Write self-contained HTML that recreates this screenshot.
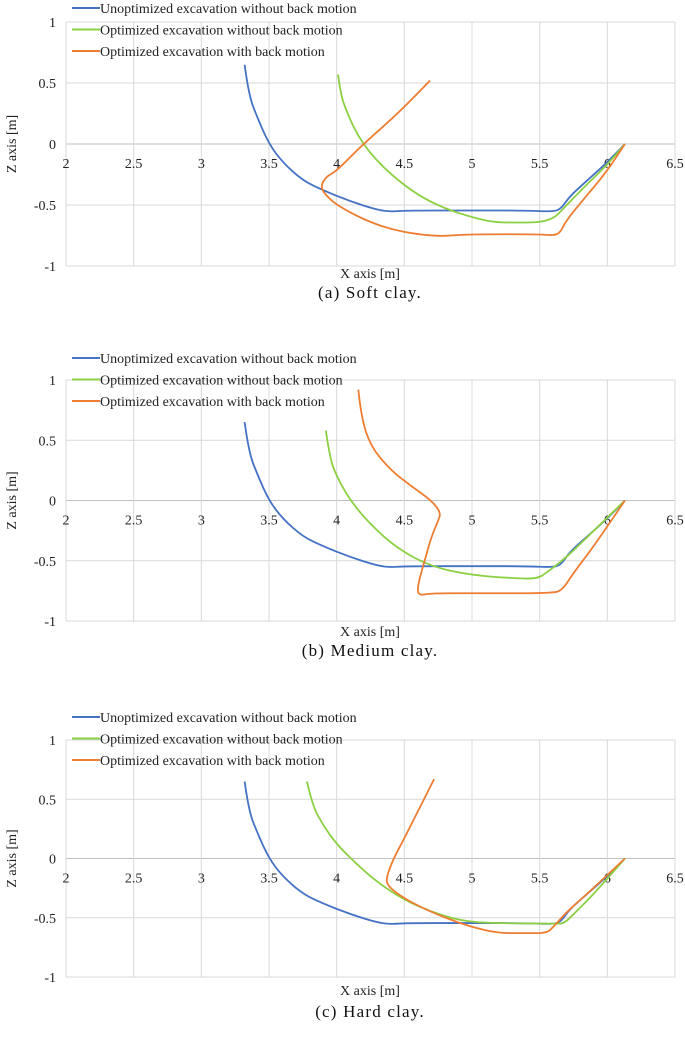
<!DOCTYPE html>
<html><head><meta charset="utf-8"><style>
html,body{margin:0;padding:0;background:#fff}
svg text{font-family:"Liberation Serif",serif}
</style></head><body>
<svg id="fig" width="685" height="1033" viewBox="0 0 685 1033" xmlns="http://www.w3.org/2000/svg"></svg>
<script>
const xTicks=[2,2.5,3,3.5,4,4.5,5,5.5,6,6.5];
const yTicks=[1,0.5,0,-0.5,-1];
const seriesNames=["Unoptimized excavation without back motion","Optimized excavation without back motion","Optimized excavation with back motion"];
const colors=["#4472c4","#8bd042","#ed7d31"];
const captions=["(a) Soft clay.","(b) Medium clay.","(c) Hard clay."];
const blueX=[3.32,3.35,3.42,3.5,3.6,3.75,3.9,4.1,4.3,4.4,4.5,5,5.4,5.6,5.66,5.72,5.85,6.0,6.13];
const blueZ=[0.65,0.4,0.2,0.0,-0.15,-0.3,-0.38,-0.47,-0.54,-0.555,-0.545,-0.545,-0.545,-0.555,-0.53,-0.43,-0.3,-0.15,0];
const a_greenX=[4.01,4.03,4.08,4.15,4.25,4.4,4.6,4.8,5.0,5.15,5.3,5.58,5.7,5.85,6.0,6.13];
const a_greenZ=[0.57,0.4,0.25,0.08,-0.08,-0.25,-0.42,-0.53,-0.6,-0.64,-0.645,-0.64,-0.5,-0.33,-0.17,0];
const a_orangeX=[4.69,4.5,4.3,4.15,4.0,3.92,3.88,3.92,4.0,4.2,4.4,4.6,4.75,4.85,5.0,5.5,5.6,5.65,5.7,5.85,6.0,6.13];
const a_orangeZ=[0.52,0.3,0.1,-0.05,-0.22,-0.27,-0.35,-0.42,-0.5,-0.62,-0.7,-0.74,-0.755,-0.75,-0.74,-0.74,-0.75,-0.73,-0.62,-0.42,-0.22,0];
const b_greenX=[3.92,3.95,4.0,4.1,4.25,4.45,4.7,5.0,5.3,5.48,5.55,5.7,5.9,6.13];
const b_greenZ=[0.58,0.35,0.2,0.0,-0.2,-0.4,-0.55,-0.62,-0.645,-0.65,-0.6,-0.47,-0.25,0];
const b_orangeX=[4.16,4.18,4.25,4.4,4.55,4.7,4.77,4.75,4.7,4.65,4.6,4.6,4.7,5,5.6,5.67,5.75,5.9,6.13];
const b_orangeZ=[0.92,0.7,0.45,0.25,0.12,0.0,-0.1,-0.17,-0.3,-0.5,-0.7,-0.79,-0.77,-0.77,-0.77,-0.74,-0.6,-0.38,0];
const c_greenX=[3.78,3.82,3.9,4.0,4.15,4.3,4.5,4.7,4.9,5.1,5.6,5.68,5.75,5.9,6.13];
const c_greenZ=[0.65,0.45,0.28,0.12,-0.05,-0.2,-0.35,-0.45,-0.52,-0.545,-0.55,-0.55,-0.47,-0.3,0];
const c_orangeX=[4.72,4.6,4.5,4.42,4.37,4.37,4.45,4.6,4.8,5.0,5.2,5.4,5.55,5.6,5.7,5.85,6.13];
const c_orangeZ=[0.67,0.4,0.17,0.0,-0.15,-0.22,-0.3,-0.4,-0.5,-0.58,-0.63,-0.63,-0.63,-0.58,-0.45,-0.3,0];

const panels=[
 {top:22,bot:266,leg:8,cap:298,xl:278,s:[[blueX,blueZ],[a_greenX,a_greenZ],[a_orangeX,a_orangeZ]]},
 {top:380,bot:621,leg:358,cap:656,xl:636,s:[[blueX,blueZ],[b_greenX,b_greenZ],[b_orangeX,b_orangeZ]]},
 {top:740,bot:977,leg:717,cap:1017,xl:995,s:[[blueX,blueZ],[c_greenX,c_greenZ],[c_orangeX,c_orangeZ]]}
];
const NS="http://www.w3.org/2000/svg";
const svg=document.getElementById('fig');
function mk(t,a,p,txt){const e=document.createElementNS(NS,t);for(const k in a)e.setAttribute(k,a[k]);if(txt!==undefined)e.textContent=txt;(p||svg).appendChild(e);return e;}
const L=66,R=675;
panels.forEach((p,pi)=>{
 const g=mk('g',{});
 
 
 const sx=v=>L+(v-2)/4.5*(R-L);
 const sy=v=>p.top+(1-v)/2*(p.bot-p.top);
 yTicks.forEach(t=>{
  const ln=mk('line',{x1:L,x2:R,y1:sy(t),y2:sy(t),stroke:t===0?'#bfbfbf':'#d9d9d9','stroke-width':1},g);
  
  
  const tx=mk('text',{x:L-10,y:sy(t)+5,'text-anchor':'end','font-size':14,fill:'#222'},g,String(t));
  
  
 });
 xTicks.forEach(t=>{
  const ln=mk('line',{x1:sx(t),x2:sx(t),y1:p.top,y2:p.bot,stroke:'#d9d9d9','stroke-width':1},g);
  
  
  const tx=mk('text',{x:sx(t),y:sy(0)+24,'text-anchor':'middle','font-size':14,fill:'#222'},g,String(t));
  
  
 });
 const yt=mk('text',{x:16,y:(p.top+p.bot)/2,'text-anchor':'middle','font-size':14,fill:'#222',transform:`rotate(-90 16 ${(p.top+p.bot)/2})`},g,'Z axis [m]');
 
 
 const xt=mk('text',{x:370,y:p.xl,'text-anchor':'middle','font-size':14,fill:'#222'},g,'X axis [m]');
 
 
 p.s.forEach((s,si)=>{
  const pts=s[0].map((x,i)=>[sx(x),sy(s[1][i])]);
  let d='M'+pts[0][0]+','+pts[0][1];
  for(let i=1;i<pts.length-1;i++){const mx=(pts[i][0]+pts[i+1][0])/2,my=(pts[i][1]+pts[i+1][1])/2;d+=` Q${pts[i][0]},${pts[i][1]} ${mx},${my}`;}
  const l=pts[pts.length-1];d+=` L${l[0]},${l[1]}`;
  const path=mk('path',{d:d,fill:'none',stroke:colors[si],'stroke-width':1.8,'stroke-linejoin':'round'},g);
  
  
  const ly=p.leg+si*21.5;
  const ll=mk('line',{x1:72,x2:100,y1:ly,y2:ly,stroke:colors[si],'stroke-width':2},g);
  
  
  const lt=mk('text',{x:100,y:ly+5,'font-size':14,fill:'#222'},g,seriesNames[si]);
  
  
 });
 const c=mk('text',{x:370,y:p.cap,'text-anchor':'middle','font-size':17,'letter-spacing':1.2,fill:'#111','font-weight':300},g,captions[pi]);
 
 
});
</script>
</body></html>
